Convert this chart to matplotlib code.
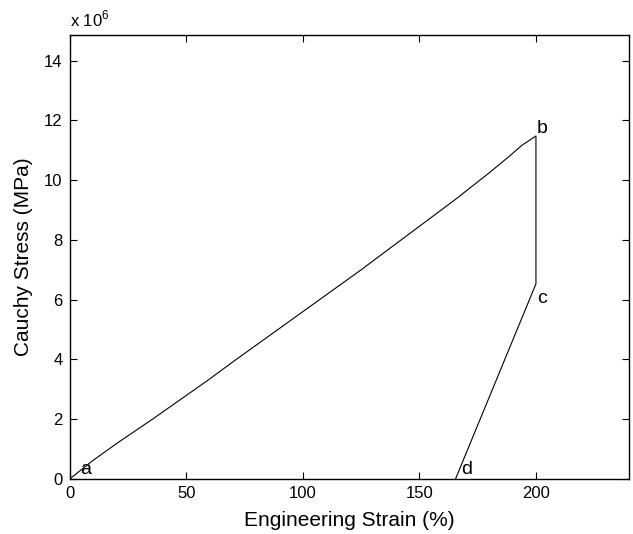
import matplotlib
matplotlib.use('Agg')
import matplotlib.pyplot as plt
from matplotlib.ticker import FuncFormatter

plt.rcParams['font.family'] = ['Liberation Sans', 'DejaVu Sans']
plt.rcParams['mathtext.fontset'] = 'custom'
plt.rcParams['mathtext.rm'] = 'Liberation Sans'

strain = [0, 10, 20, 35.5, 59.4, 70, 100, 125, 143, 165, 180, 189, 194, 200, 200, 165.5]
stress = [0, 0.62e6, 1.18e6, 2.0e6, 3.31e6, 3.92e6, 5.6e6, 7.0e6, 8.05e6, 9.33e6,
          10.25e6, 10.83e6, 11.17e6, 11.48e6, 6.53e6, 0]

point_labels = ['a', 'b', 'c', 'd']
point_x = [4.5, 200.5, 200.5, 168]
point_y = [0.05e6, 11.45e6, 5.75e6, 0.05e6]

xticks = [0, 50, 100, 150, 200]
yticks = [0, 2e6, 4e6, 6e6, 8e6, 10e6, 12e6, 14e6]

fig = plt.figure(figsize=(6.33, 5.34), dpi=100)
ax = fig.add_axes([0.110, 0.103, 0.884, 0.832])

ax.plot(strain, stress, color='black', lw=0.8)

for lab, px, py in zip(point_labels, point_x, point_y):
    ax.text(px, py, lab, fontsize=14, ha='left', va='bottom')

ax.set_xlim(0, 240)
ax.set_ylim(0, 1.487e7)
ax.set_xticks(xticks)
ax.set_yticks(yticks)
ax.yaxis.set_major_formatter(FuncFormatter(lambda v, p: '%d' % round(v / 1e6)))
ax.tick_params(direction='in', length=5, width=0.8, top=True, right=True,
               labelsize=12, pad=5)
for s in ax.spines.values():
    s.set_linewidth(1.0)

ax.set_xlabel('Engineering Strain (%)', fontsize=15, labelpad=7)
ax.set_ylabel('Cauchy Stress (MPa)', fontsize=15, labelpad=8)
ax.text(0.0, 1.012, 'x 10$^{6}$', transform=ax.transAxes, fontsize=12,
        ha='left', va='bottom')

fig.savefig('out.png', dpi=100)
